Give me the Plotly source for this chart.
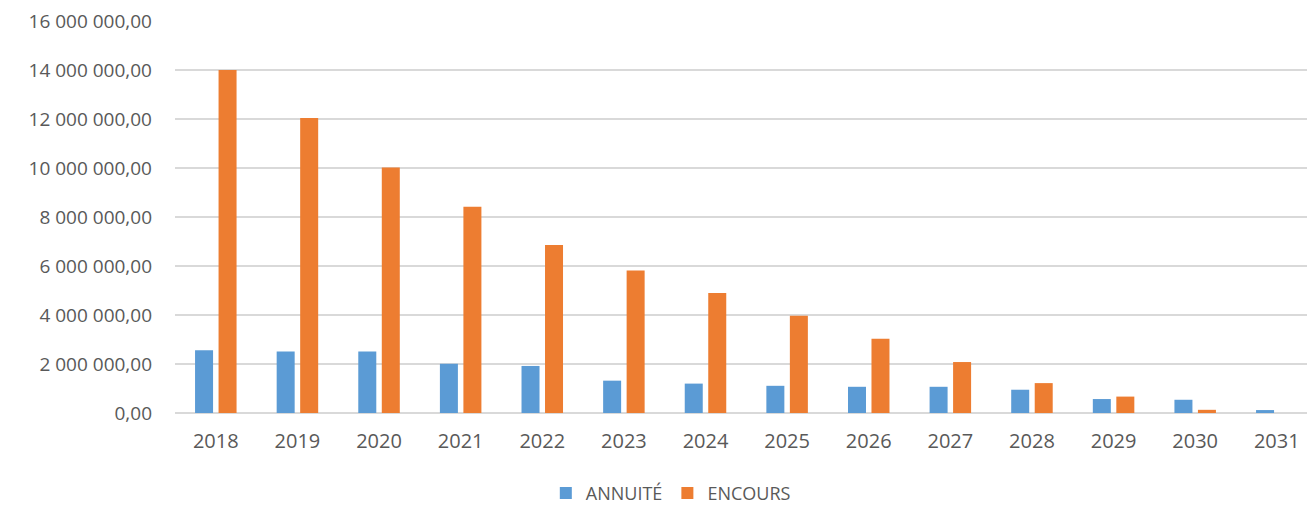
import plotly.graph_objects as go

years = ["2018", "2019", "2020", "2021", "2022", "2023", "2024",
         "2025", "2026", "2027", "2028", "2029", "2030", "2031"]
annuite = [2560000, 2510000, 2510000, 2010000, 1920000, 1320000, 1200000,
           1110000, 1070000, 1070000, 950000, 570000, 540000, 120000]
encours = [14000000, 12040000, 10020000, 8420000, 6860000, 5820000, 4900000,
           3970000, 3030000, 2080000, 1220000, 670000, 130000, 0]

TEXT = "#595959"
FONT = "Open Sans"

fig = go.Figure()
fig.add_trace(go.Bar(name="ANNUITÉ", x=years, y=annuite,
                     marker=dict(color="#5B9BD5", line=dict(width=0))))
fig.add_trace(go.Bar(name="ENCOURS", x=years, y=encours,
                     marker=dict(color="#ED7D31", line=dict(width=0))))

fig.update_layout(
    width=1307, height=506,
    margin=dict(l=175, r=0, t=21, b=93, autoexpand=False),
    paper_bgcolor="white", plot_bgcolor="white",
    barmode="group", bargap=0.424, bargroupgap=0.234,
    separators=", ",
    font=dict(family=FONT, color=TEXT, size=19),
    showlegend=True,
    legend=dict(orientation="h", x=0.438, xanchor="center",
                y=-0.205, yanchor="middle",
                font=dict(size=18, color=TEXT), itemwidth=30),
    xaxis=dict(type="category", range=[-0.5, 13.37], showgrid=False,
               showline=False, ticks="", ticklabelstandoff=14,
               tickfont=dict(size=20, color=TEXT)),
    yaxis=dict(range=[0, 16000000], dtick=2000000, tickformat=",.2f",
               showgrid=True, gridcolor="#D9D9D9", gridwidth=1.5,
               zeroline=True, zerolinecolor="#D9D9D9", zerolinewidth=1.5,
               showline=False, ticks="", ticklabelstandoff=22,
               tickfont=dict(size=19, color=TEXT)),
)

fig.write_html("out.html")
